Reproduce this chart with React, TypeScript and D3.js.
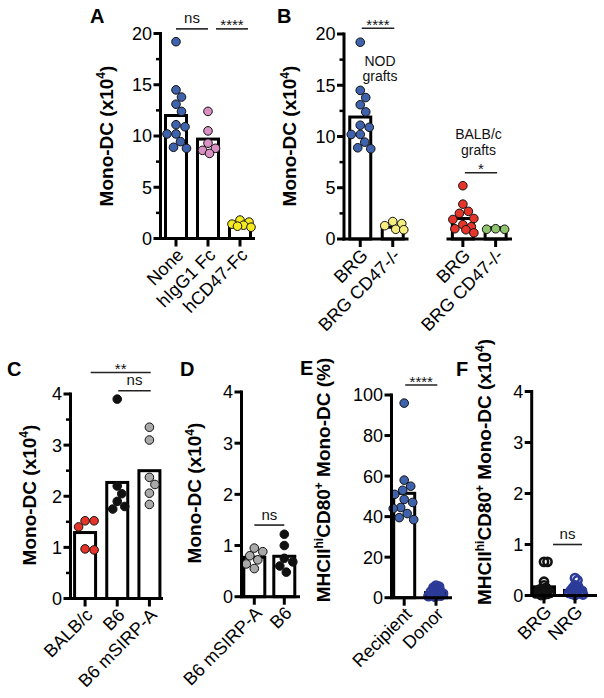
import React from "react";
import * as d3 from "d3";

const FONT = "'Liberation Sans', Arial, Helvetica, sans-serif";

// ---------- Panel A ----------
const catsA = ["None", "hIgG1 Fc", "hCD47-Fc"];
const noneA = [19.2, 14.5, 13.8, 13.1, 12.4, 11.1, 10.9, 10.2, 10.2, 9.45, 8.9, 8.8];
const higgA = [12.4, 10.5, 9.3, 8.8, 8.6, 8.3];
const hcd47A = [1.8, 1.6, 1.4, 1.3, 1.2, 1.1];
const barsA = [12.0, 9.7, 1.4];
const ticksA = [0, 5, 10, 15, 20];
const minorA = [2.5, 7.5, 12.5, 17.5];

// ---------- Panel B ----------
const catsB1 = ["BRG", "BRG CD47-/-"];
const catsB2 = ["BRG", "BRG CD47-/-"];
const nodBrgB = [19.2, 14.5, 13.8, 13.1, 12.4, 11.1, 10.9, 10.2, 10.2, 9.45, 8.9, 8.8];
const nodCd47B = [1.7, 1.5, 1.3, 0.95, 0.9];
const balbBrgB = [5.2, 3.4, 2.7, 2.5, 2.0, 1.9, 1.4, 1.2, 1.0, 0.9, 0.6];
const balbCd47B = [0.95, 1.0, 0.95];
const barsB1 = [11.9, 1.15];
const barsB2 = [2.0, 1.1];

// ---------- Panel C ----------
const catsC = ["BALB/c", "B6", "B6 mSIRP-A"];
const balbC = [1.52, 1.52, 1.4, 0.95, 0.97];
const b6C = [3.9, 2.2, 2.05, 1.9, 1.8, 1.75];
const sirpC = [3.35, 3.1, 2.37, 2.23, 2.06, 1.84];
const barsC = [1.29, 2.27, 2.5];
const ticks4 = [0, 1, 2, 3, 4];
const minorC = [0.5, 1.5, 2.5, 3.5];

// ---------- Panel D ----------
const catsD = ["B6 mSIRP-A", "B6"];
const sirpD = [0.95, 0.88, 0.8, 0.72, 0.64, 0.55];
const b6D = [1.22, 1.0, 0.75, 0.68, 0.6, 0.48];
const barsD = [0.77, 0.79];

// ---------- Panel E ----------
const catsE = ["Recipient", "Donor"];
const recipE = [96, 58, 55, 53, 51, 48.5, 47, 44.5, 44, 41.5, 39.5, 38.5];
const donorE = [6, 5.5, 5, 4.5, 4, 3.5, 3, 3, 2.5, 2, 2, 1.5, 1.5, 1, 0.8, 0.5];
const barsE = [51.5, 2.5];
const ticksE = [0, 20, 40, 60, 80, 100];

// ---------- Panel F ----------
const catsF = ["BRG", "NRG"];
const brgF = [0.66, 0.66, 0.27, 0.2, 0.15, 0.13, 0.12, 0.1, 0.08, 0.07, 0.05, 0.05, 0.04, 0.03, 0.02, 0.01];
const nrgF = [0.34, 0.3, 0.2, 0.18, 0.15, 0.13, 0.12, 0.1, 0.09, 0.08, 0.06, 0.05, 0.04, 0.03, 0.02, 0.01];
const barsF = [0.17, 0.1];

const C = {
  blue: "#3f62ad",
  pink: "#d891c2",
  yellowA: "#f4ea1f",
  yellowB: "#f5ee7e",
  red: "#e53429",
  green: "#8fc46f",
  gray: "#a9a9a9",
  black: "#111111",
  navy: "#2c3b98",
};

type Series = { values: number[]; fill: string; stroke: string; open?: boolean };
type Group = { cats: string[]; range: [number, number]; axisStart: number; axisEnd: number; bars: number[]; series: Series[] };
type Annot = { a: number; b: number; g?: number; dx1: number; dx2: number; y: number; text: string };
type Panel = {
  letter: string; lx: number; ly: number;
  axisX: number; y0: number; y1: number; yMax: number;
  ticks: number[]; minor: number[];
  ylabel: { t: string; sup?: boolean }[]; ylx: number; yly: number;
  groups: Group[]; annots: Annot[];
  notes?: { x: number; y: number; lines: string[] }[];
};

const monoLabel = [{ t: "Mono-DC (x10" }, { t: "4", sup: true }, { t: ")" }];
const mhcPct = [{ t: "MHCII" }, { t: "hi", sup: true }, { t: "CD80" }, { t: "+", sup: true }, { t: " Mono-DC (%)" }];
const mhcNum = [{ t: "MHCII" }, { t: "hi", sup: true }, { t: "CD80" }, { t: "+", sup: true }, { t: " Mono-DC (x10" }, { t: "4", sup: true }, { t: ")" }];

const panels: Panel[] = [
  {
    letter: "A", lx: 90, ly: 23, axisX: 160.5, y0: 238.5, y1: 33.5, yMax: 20,
    ticks: ticksA, minor: minorA, ylabel: monoLabel, ylx: 112.5, yly: 136,
    groups: [{ cats: catsA, range: [160, 256], axisStart: 159, axisEnd: 255, bars: barsA, series: [
      { values: noneA, fill: C.blue, stroke: C.black },
      { values: higgA, fill: C.pink, stroke: C.black },
      { values: hcd47A, fill: C.yellowA, stroke: C.black },
    ] }],
    annots: [
      { a: 0, b: 1, dx1: 0, dx2: 0, y: 20.45, text: "ns" },
      { a: 1, b: 2, dx1: 8, dx2: 8, y: 20.45, text: "****" },
    ],
  },
  {
    letter: "B", lx: 277, ly: 23, axisX: 344, y0: 239, y1: 34, yMax: 20,
    ticks: ticksA, minor: minorA, ylabel: monoLabel, ylx: 296, yly: 136,
    groups: [
      { cats: catsB1, range: [344, 409], axisStart: 342.5, axisEnd: 408.5, bars: barsB1, series: [
        { values: nodBrgB, fill: C.blue, stroke: C.black },
        { values: nodCd47B, fill: C.yellowB, stroke: C.black },
      ] },
      { cats: catsB2, range: [446.5, 512], axisStart: 446.5, axisEnd: 512, bars: barsB2, series: [
        { values: balbBrgB, fill: C.red, stroke: C.black },
        { values: balbCd47B, fill: C.green, stroke: C.black },
      ] },
    ],
    annots: [
      { a: 0, b: 1, g: 0, dx1: 1.5, dx2: 1.5, y: 20.56, text: "****" },
      { a: 0, b: 1, g: 1, dx1: 2, dx2: 1.5, y: 6.47, text: "*" },
    ],
    notes: [
      { x: 380, y: 65.5, lines: ["NOD", "grafts"] },
      { x: 478.5, y: 139, lines: ["BALB/c", "grafts"] },
    ],
  },
  {
    letter: "C", lx: 7, ly: 375.5, axisX: 70.5, y0: 598.5, y1: 394, yMax: 4,
    ticks: ticks4, minor: minorC, ylabel: monoLabel, ylx: 35.5, yly: 495,
    groups: [{ cats: catsC, range: [69, 165.5], axisStart: 69, axisEnd: 163, bars: barsC, series: [
      { values: balbC, fill: C.red, stroke: C.black },
      { values: b6C, fill: C.black, stroke: C.black },
      { values: sirpC, fill: C.gray, stroke: C.black },
    ] }],
    annots: [
      { a: 0, b: 2, dx1: 5.6, dx2: 1.3, y: 4.42, text: "**" },
      { a: 1, b: 2, dx1: 1, dx2: 1.3, y: 4.065, text: "ns" },
    ],
  },
  {
    letter: "D", lx: 180, ly: 375.5, axisX: 241.5, y0: 596.7, y1: 392, yMax: 4,
    ticks: ticks4, minor: [], ylabel: monoLabel, ylx: 201, yly: 493,
    groups: [{ cats: catsD, range: [239.3, 299.3], axisStart: 240, axisEnd: 300, bars: barsD, series: [
      { values: sirpD, fill: C.gray, stroke: C.black },
      { values: b6D, fill: C.black, stroke: C.black },
    ] }],
    annots: [{ a: 0, b: 1, dx1: 0, dx2: 0, y: 1.4, text: "ns" }],
  },
  {
    letter: "E", lx: 300, ly: 375, axisX: 391.5, y0: 597.7, y1: 395, yMax: 100,
    ticks: ticksE, minor: [], ylabel: mhcPct, ylx: 330, yly: 480,
    groups: [{ cats: catsE, range: [388.3, 451.9], axisStart: 390, axisEnd: 452, bars: barsE, series: [
      { values: recipE, fill: C.blue, stroke: C.black },
      { values: donorE, fill: "none", stroke: C.navy, open: true },
    ] }],
    annots: [{ a: 0, b: 1, dx1: 1, dx2: 1.3, y: 104.9, text: "****" }],
  },
  {
    letter: "F", lx: 456, ly: 376, axisX: 531.7, y0: 595.5, y1: 391.5, yMax: 4,
    ticks: ticks4, minor: [], ylabel: mhcNum, ylx: 491, yly: 472,
    groups: [{ cats: catsF, range: [528.5, 590.5], axisStart: 530, axisEnd: 597, bars: barsF, series: [
      { values: brgF, fill: "none", stroke: C.black, open: true },
      { values: nrgF, fill: "none", stroke: C.navy, open: true },
    ] }],
    annots: [{ a: 0, b: 1, dx1: 9, dx2: 7, y: 1.0, text: "ns" }],
  },
];

function swarm(ys: number[], r: number, overlap: number, maxW: number): number[] {
  const order = ys.map((_, i) => i).sort((a, b) => ys[a] - ys[b]);
  const placed: { x: number; y: number }[] = [];
  const out = new Array(ys.length).fill(0);
  const minD = 2 * r * overlap;
  for (const i of order) {
    const y = ys[i];
    let best = 0;
    let bestScore = -1;
    let found = false;
    for (let k = 0; k < 400; k++) {
      const cand = k === 0 ? 0 : (k % 2 === 1 ? 1 : -1) * Math.ceil(k / 2) * 0.5;
      if (Math.abs(cand) > maxW) break;
      const md = placed.length ? Math.min(...placed.map((p) => Math.hypot(p.x - cand, p.y - y))) : Infinity;
      if (md >= minD) { best = cand; found = true; break; }
      if (md > bestScore) { bestScore = md; best = cand; }
    }
    if (!found && bestScore < 0) best = 0;
    placed.push({ x: best, y });
    out[i] = best;
  }
  return out;
}

function RichText({ parts, size, sup }: { parts: { t: string; sup?: boolean }[]; size: number; sup: number }) {
  const els: React.ReactNode[] = [];
  let prevSup = false;
  parts.forEach((p, i) => {
    let dy = 0;
    if (p.sup && !prevSup) dy = -size * 0.38;
    if (!p.sup && prevSup) dy = size * 0.38;
    els.push(
      <tspan key={i} dy={dy} fontSize={p.sup ? sup : size}>{p.t}</tspan>
    );
    prevSup = !!p.sup;
  });
  return <>{els}</>;
}

function PanelView({ p }: { p: Panel }) {
  const y = d3.scaleLinear().domain([0, p.yMax]).range([p.y0, p.y1]);
  const out: React.ReactNode[] = [];
  const r = 4.3;
  const xs = p.groups.map((g) => d3.scalePoint<string>().domain(g.cats.map((c, i) => c + "#" + i)).range(g.range).padding(0.5));
  const xOf = (gi: number, ci: number) => xs[gi](p.groups[gi].cats[ci] + "#" + ci) as number;

  // bars
  p.groups.forEach((g, gi) => {
    g.bars.forEach((b, ci) => {
      const cx = xOf(gi, ci);
      out.push(
        <rect key={`bar${gi}-${ci}`} x={cx - 10.5} y={y(b)} width={21} height={Math.max(0, y(0) - y(b))}
          fill="#fff" stroke="#000" strokeWidth={3} />
      );
    });
  });
  // points
  p.groups.forEach((g, gi) => {
    g.series.forEach((s, ci) => {
      const cx = xOf(gi, ci);
      const ys = s.values.map((v) => y(v));
      const offs = s.open ? swarm(ys, r, 0.35, 8) : swarm(ys, r, 1.02, 11);
      s.values.forEach((v, k) => {
        out.push(
          <circle key={`pt${gi}-${ci}-${k}`} cx={cx + offs[k]} cy={ys[k]} r={s.open ? 4.1 : r}
            fill={s.open ? "none" : s.fill} stroke={s.stroke} strokeWidth={s.open ? 2.6 : 1} />
        );
      });
    });
  });
  // y axis
  out.push(<line key="yaxis" x1={p.axisX} x2={p.axisX} y1={y(p.yMax) - 1.5} y2={y(0) + 1.5} stroke="#000" strokeWidth={3} />);
  p.ticks.forEach((t) => {
    out.push(<line key={`yt${t}`} x1={p.axisX - 7} x2={p.axisX} y1={y(t)} y2={y(t)} stroke="#000" strokeWidth={3} />);
    out.push(
      <text key={`ytl${t}`} x={p.axisX - 8.5} y={y(t)} dy="0.36em" textAnchor="end" fontSize={18} fontFamily={FONT} fill="#000">{t}</text>
    );
  });
  p.minor.forEach((t) => {
    out.push(<line key={`ym${t}`} x1={p.axisX - 4.5} x2={p.axisX} y1={y(t)} y2={y(t)} stroke="#000" strokeWidth={2.5} />);
  });
  // x axes
  p.groups.forEach((g, gi) => {
    out.push(<line key={`xa${gi}`} x1={g.axisStart} x2={g.axisEnd} y1={y(0)} y2={y(0)} stroke="#000" strokeWidth={3} />);
    g.cats.forEach((c, ci) => {
      const cx = xOf(gi, ci);
      out.push(<line key={`xt${gi}-${ci}`} x1={cx} x2={cx} y1={y(0)} y2={y(0) + 8} stroke="#000" strokeWidth={3} />);
      out.push(
        <text key={`xtl${gi}-${ci}`} transform={`translate(${cx + 4},${y(0) + 13}) rotate(-45)`} textAnchor="end" dy="0.36em"
          fontSize={18} fontFamily={FONT} fill="#000">{c}</text>
      );
    });
  });
  // annotations
  p.annots.forEach((a, i) => {
    const gi = a.g ?? 0;
    const x1 = xOf(gi, a.a) + a.dx1;
    const x2 = xOf(gi, a.b) + a.dx2;
    const yy = y(a.y);
    const stars = a.text.includes("*");
    out.push(<line key={`an${i}`} x1={x1} x2={x2} y1={yy} y2={yy} stroke="#222" strokeWidth={1.6} />);
    out.push(
      <text key={`ant${i}`} x={(x1 + x2) / 2} y={stars ? yy + 1.5 : yy - 5.5} textAnchor="middle" fontSize={15}
        fontFamily={FONT} fill="#111">{a.text}</text>
    );
  });
  // notes
  (p.notes || []).forEach((n, i) => {
    n.lines.forEach((l, j) => {
      out.push(
        <text key={`note${i}-${j}`} x={n.x} y={n.y + j * 15.5} textAnchor="middle" fontSize={14} fontFamily={FONT} fill="#111">{l}</text>
      );
    });
  });
  // y label
  out.push(
    <text key="ylab" transform={`translate(${p.ylx},${p.yly}) rotate(-90)`} textAnchor="middle" dy="0.36em"
      fontSize={19} fontWeight="bold" fontFamily={FONT} fill="#000">
      <RichText parts={p.ylabel} size={19} sup={12} />
    </text>
  );
  // letter
  out.push(
    <text key="letter" x={p.lx} y={p.ly} fontSize={20} fontWeight="bold" fontFamily={FONT} fill="#000">{p.letter}</text>
  );
  return <g>{out}</g>;
}

export default function App() {
  return (
    <svg width={604} height={698} viewBox="0 0 604 698" style={{ position: "absolute", left: 0, top: 0, background: "#fff" }}>
      <rect x={0} y={0} width={604} height={698} fill="#fff" />
      {panels.map((p) => <PanelView key={p.letter} p={p} />)}
    </svg>
  );
}
